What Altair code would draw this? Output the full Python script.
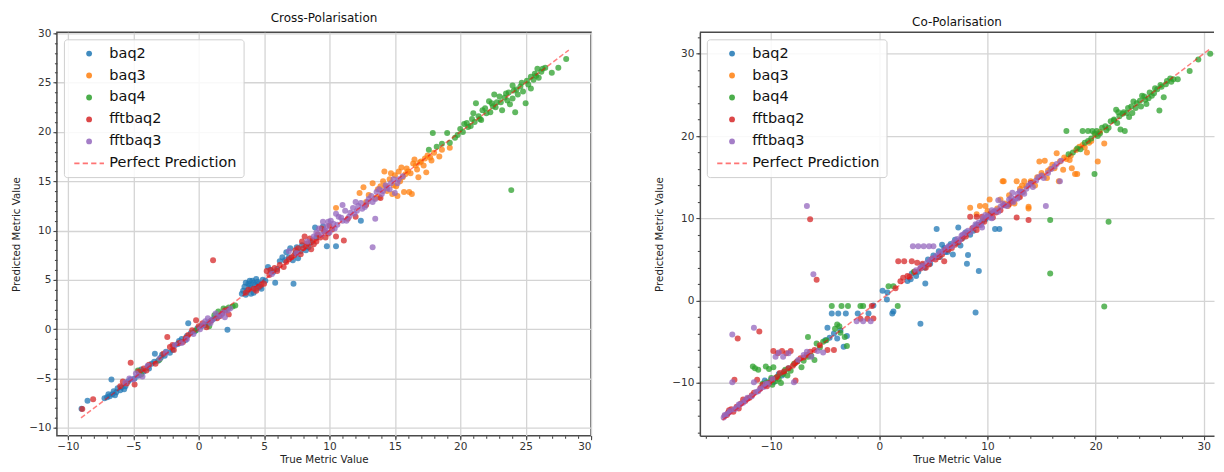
import altair as alt
import pandas as pd

SERIES = ["baq2", "baq3", "baq4", "fftbaq2", "fftbaq3"]
COLORS = ["#1f77b4", "#ff7f0e", "#2ca02c", "#d62728", "#9467bd"]
LINE_LABEL = "Perfect Prediction"
LINE_LEGEND_COLOR = "#ff5c5c"
# dashed legend glyph (filled dash pieces), unit = sqrt(symbolSize)/2
DASH_PATH = ("M-5.1,-0.34H-3.3V0.34H-5.1Z M-2.2,-0.34H-0.4V0.34H-2.2Z "
             "M0.7,-0.34H2.5V0.34H0.7Z M3.6,-0.34H5.1V0.34H3.6Z")

# ---------------- Cross-Polarisation (true, predicted) ----------------
CROSS_BAQ2 = [(-8.96, -8.07), (-8.5, -7.25), (-6.67, -5.1), (-7.0, -6.9), (-6.8, -6.8), (-6.6, -6.6),
              (-6.4, -6.7), (-6.2, -6.0), (-6.5, -6.3), (-5.9, -5.9), (-5.7, -6.1), (-5.4, -5.3),
              (-4.9, -5.0), (-4.2, -4.3), (-3.9, -3.8), (-3.6, -3.5), (-3.35, -2.5), (-3.1, -3.2),
              (-2.8, -2.6), (-2.5, -2.3), (-2.2, -2.4), (-1.9, -1.7), (-1.6, -1.5), (-1.3, -1.0),
              (-1.0, -1.1), (-0.8, 0.6), (-0.6, -0.4), (-0.3, -0.2), (0.2, 0.3), (0.5, 0.4),
              (1.0, 0.9), (1.5, 1.3), (2.2, -0.07), (3.3, 3.6), (3.5, 4.3), (3.7, 3.9), (3.8, 4.6),
              (4.0, 4.2), (4.1, 4.9), (4.3, 4.5), (4.5, 4.8), (4.2, 3.7), (4.7, 4.3), (4.9, 5.0),
              (5.3, 6.3), (5.5, 6.0), (5.85, 4.7), (6.0, 6.1), (6.4, 7.3), (6.7, 7.8), (7.0, 8.2),
              (7.25, 4.6), (7.5, 8.3), (7.2, 7.0), (7.6, 7.2), (7.9, 8.5), (8.2, 8.0), (8.6, 8.8),
              (9.0, 9.3), (9.8, 8.4), (10.5, 8.4), (9.5, 10.4), (8.9, 10.3), (12.4, 11.0),
              (-7.2, -7.0), (-6.9, -6.6), (-6.3, -6.4), (-6.0, -6.2), (-5.6, -5.8), (-5.2, -5.1),
              (-4.6, -4.7), (-4.4, -4.1), (-3.8, -4.0), (-3.4, -3.3), (-2.9, -2.9), (-2.6, -2.7),
              (-2.0, -2.1), (-1.5, -1.2), (-0.9, -0.7), (-0.1, 0.1), (0.7, 0.6), (1.2, 1.1),
              (3.4, 3.9), (3.6, 4.7), (3.9, 4.4), (4.0, 3.6), (4.2, 4.7), (4.4, 4.1), (4.6, 4.6),
              (3.9, 4.9), (4.4, 5.1), (5.1, 4.9), (5.7, 5.8), (6.2, 6.9), (6.6, 7.0), (6.9, 7.3),
              (7.4, 7.7), (7.8, 7.9), (8.4, 8.3), (3.6, 3.5), (4.8, 4.1)]
CROSS_BAQ3 = [(10.5, 12.3), (12.3, 13.8), (12.6, 14.4), (13.0, 13.6), (13.3, 14.8), (13.7, 14.2),
              (14.1, 15.0), (14.4, 14.0), (14.6, 15.2), (14.8, 13.7), (15.2, 13.5), (15.7, 13.9),
              (16.1, 13.9), (16.3, 13.7), (15.0, 15.6), (15.3, 16.0), (15.6, 15.4), (15.9, 16.3),
              (16.2, 15.8), (16.4, 16.8), (16.7, 16.2), (17.0, 17.0), (17.2, 16.6), (17.5, 17.6),
              (17.8, 17.1), (18.0, 17.9), (18.4, 17.5), (18.6, 18.2), (19.2, 18.4), (16.8, 15.4),
              (17.4, 15.9), (14.2, 16.0), (12.8, 12.9), (13.5, 13.3), (13.9, 14.5), (14.3, 14.5),
              (14.9, 14.6), (15.4, 15.0), (15.8, 15.7), (16.0, 16.0), (16.6, 16.6), (16.9, 16.9),
              (17.3, 17.3), (17.7, 17.4), (15.5, 16.4), (16.5, 17.2), (14.7, 15.8), (13.8, 13.4),
              (15.1, 14.5)]
CROSS_BAQ4 = [(-4.65, -4.2), (-4.4, -4.6), (-3.0, -3.1), (-0.2, -0.1), (0.8, 0.3), (1.5, 1.8),
              (1.9, 2.1), (2.3, 2.2), (2.6, 2.3), (2.8, 2.4), (17.6, 18.2), (17.9, 19.9), (18.2, 18.5),
              (18.6, 18.8), (19.0, 19.9), (19.2, 18.9), (19.8, 19.7), (20.0, 20.3), (20.3, 20.8),
              (20.6, 20.5), (20.9, 21.3), (21.2, 22.9), (21.4, 21.6), (21.7, 22.2), (22.0, 21.9),
              (22.2, 23.1), (22.5, 22.6), (22.8, 23.0), (23.2, 22.2), (23.0, 23.6), (23.4, 23.5),
              (23.7, 24.0), (23.9, 14.1), (24.0, 23.4), (24.2, 22.0), (24.3, 24.3), (24.6, 24.6),
              (24.8, 24.1), (25.0, 22.9), (25.1, 25.2), (25.4, 24.4), (25.4, 25.6), (25.7, 25.9),
              (26.0, 25.5), (26.2, 26.1), (26.5, 26.5), (27.0, 26.0), (27.5, 26.5), (28.1, 27.4),
              (21.0, 21.9), (22.6, 23.8), (23.8, 22.8), (25.9, 26.4), (20.2, 20.0), (20.5, 20.9),
              (20.8, 20.6), (21.1, 21.0), (21.5, 21.3), (21.9, 22.4), (22.3, 22.0), (22.7, 22.5),
              (23.1, 23.0), (23.5, 23.9), (23.6, 23.2), (24.1, 24.2), (24.4, 23.8), (24.7, 25.0),
              (25.2, 24.8), (25.6, 25.3), (25.8, 25.7), (26.3, 26.4), (24.0, 24.7), (22.4, 22.9),
              (21.6, 21.2), (19.6, 19.4), (1.2, 1.4), (2.1, 2.0)]
CROSS_FFTBAQ2 = [(-8.9, -8.1), (-8.07, -7.1), (-5.2, -3.4), (-4.9, -5.6), (-5.5, -5.5), (-4.6, -4.3),
                 (-4.2, -4.0), (-3.8, -3.6), (-3.3, -3.5), (-2.4, -0.8), (-2.2, -1.8), (-1.9, -2.1),
                 (-1.5, -1.4), (-1.2, -1.3), (-0.8, -0.6), (-0.5, -0.1), (-0.2, 0.9), (0.3, 0.6),
                 (0.6, 0.2), (1.1, 7.0), (1.4, 1.1), (1.8, 1.6), (2.3, 1.5), (2.0, 1.9), (3.8, 4.0),
                 (4.2, 4.1), (4.6, 4.3), (5.0, 4.6), (5.2, 5.9), (5.5, 6.0), (5.8, 6.2), (6.2, 6.5),
                 (6.5, 6.3), (6.9, 7.1), (7.3, 7.5), (7.6, 8.2), (7.9, 8.9), (8.2, 8.4), (8.5, 9.2),
                 (8.8, 8.6), (9.1, 9.6), (9.4, 10.2), (9.7, 9.3), (10.0, 10.5), (10.5, 9.4), (11.1, 9.0),
                 (11.4, 11.2), (12.0, 11.4), (12.8, 12.6), (13.9, 13.3), (-6.0, -5.8), (-5.8, -5.3),
                 (-4.0, -4.2), (-2.7, -2.5), (-2.0, -1.6), (-1.0, -0.9), (0.0, 0.3), (0.9, 0.8),
                 (1.6, 1.3), (3.6, 3.7), (4.4, 3.9), (4.8, 4.5), (5.4, 5.5), (6.0, 5.9), (6.7, 6.8),
                 (7.1, 7.3), (7.4, 8.0), (7.8, 7.6), (8.0, 8.2), (8.3, 8.7), (8.7, 9.0), (9.0, 8.9),
                 (9.3, 9.3), (9.6, 9.9), (9.9, 9.7), (10.2, 10.1), (8.1, 9.4), (8.6, 8.1)]
CROSS_FFTBAQ3 = [(-5.6, -5.4), (-5.3, -5.0), (-4.6, -4.7), (-4.3, -4.8), (-3.9, -3.7), (-3.0, -3.0),
                 (-1.8, -1.6), (-0.9, -1.0), (-0.4, -0.5), (0.1, 0.0), (0.5, 0.8), (0.9, 0.6), (1.3, 1.6),
                 (1.7, 1.4), (2.0, 1.2), (2.4, 2.1), (5.6, 5.6), (6.9, 7.9), (7.5, 7.7), (8.3, 8.9),
                 (9.2, 10.2), (9.5, 10.9), (9.8, 10.4), (10.1, 11.0), (10.4, 10.2), (10.7, 11.4),
                 (11.0, 11.0), (11.2, 12.0), (11.5, 11.4), (11.8, 12.3), (12.1, 12.0), (12.4, 12.8),
                 (12.7, 12.4), (13.0, 13.2), (13.3, 8.3), (13.3, 12.9), (13.6, 13.9), (14.0, 13.7),
                 (14.3, 14.6), (14.6, 14.2), (14.9, 15.2), (15.2, 14.8), (15.6, 15.5), (13.5, 11.2),
                 (11.0, 12.6), (10.0, 9.8), (15.0, 13.8), (-5.0, -5.1), (-4.8, -4.5), (-2.5, -2.4),
                 (-1.3, -1.4), (0.3, 0.4), (0.7, 1.1), (1.1, 1.0), (1.5, 1.3), (1.9, 1.7), (2.2, 1.9),
                 (8.8, 9.4), (9.0, 9.8), (9.4, 9.6), (9.7, 10.0), (10.3, 10.7), (10.6, 10.6),
                 (10.9, 11.3), (11.3, 11.0), (11.6, 11.8), (11.9, 11.7), (12.2, 12.5), (12.5, 12.2),
                 (12.9, 12.9), (13.2, 13.5), (13.5, 13.2), (13.8, 14.2), (14.1, 14.0), (14.4, 14.3),
                 (14.7, 14.8), (15.3, 15.2), (12.0, 12.9), (10.5, 11.7), (9.9, 10.9)]
CROSS_LINE = [-9.0, 28.3]

# ---------------- Co-Polarisation (true, predicted) ----------------
CO_BAQ2 = [(-10.6, -9.7), (-10.3, -10.1), (-10.0, -9.6), (-9.8, -9.9), (-9.3, -8.9), (-8.4, -8.2),
           (-4.8, -3.3), (-4.4, -1.55), (-3.8, -1.55), (-3.1, -1.55), (-4.2, -4.0), (-3.9, -4.6),
           (-3.6, -3.6), (-3.3, -5.6), (-3.0, -4.3), (-2.0, -1.55), (-1.0, -1.55), (-0.55, -0.6),
           (0.3, 1.2), (0.7, 0.15), (0.75, 1.0), (1.2, -1.55), (1.3, -1.3), (2.6, 2.4), (3.0, 3.3),
           (3.4, 3.0), (3.8, -2.8), (4.25, 2.1), (4.0, 4.3), (4.5, 5.0), (5.0, 5.5), (5.3, 8.7),
           (5.6, 5.3), (6.0, 6.4), (6.3, 5.9), (6.6, 6.9), (7.0, 7.4), (7.3, 8.9), (7.5, 6.7),
           (8.1, 4.5), (8.2, 5.55), (8.4, 8.0), (8.9, -1.45), (9.2, 3.6), (9.5, 9.6), (10.7, 8.7),
           (11.1, 8.7), (10.2, 10.5), (6.8, 5.6), (5.8, 6.8), (-9.6, -9.4), (-9.0, -9.1), (-8.8, -8.6),
           (-5.0, -4.8), (-4.6, -4.5), (4.2, 4.0), (4.7, 4.5), (5.2, 5.3), (5.5, 6.0), (6.1, 5.9),
           (6.5, 6.6), (7.1, 7.0), (7.7, 7.6), (8.0, 8.3), (8.7, 8.5), (9.0, 9.2), (9.8, 9.9),
           (2.9, 2.6), (3.6, 3.5)]
CO_BAQ3 = [(8.4, 11.3), (9.3, 11.5), (9.8, 11.5), (10.2, 12.3), (11.2, 12.3), (11.4, 14.5), (11.5, 14.5),
           (12.7, 14.5), (13.4, 14.5), (14.0, 14.5), (13.8, 11.4), (13.8, 11.2), (12.0, 12.8),
           (12.5, 11.8), (13.0, 13.6), (14.4, 14.0), (14.8, 16.9), (15.3, 17.0), (15.0, 15.5),
           (15.6, 15.8), (16.0, 16.5), (16.4, 17.9), (16.6, 14.5), (17.0, 15.9), (17.3, 17.2),
           (17.6, 17.1), (17.8, 16.1), (18.1, 15.4), (18.3, 15.4), (18.5, 18.7), (19.0, 18.6),
           (19.2, 18.0), (19.6, 19.4), (20.2, 16.9), (20.8, 19.1), (20.0, 20.2), (9.0, 10.5),
           (10.6, 10.8), (10.0, 10.9), (10.9, 11.2), (11.6, 11.8), (12.2, 12.1), (12.9, 12.6),
           (13.3, 13.2), (13.6, 13.9), (14.2, 14.4), (14.6, 15.0), (15.1, 15.2), (15.8, 16.0),
           (16.2, 16.1), (16.7, 16.9), (17.1, 17.4), (17.7, 17.6), (18.2, 18.3), (18.8, 18.9),
           (19.4, 19.2), (20.4, 20.5), (11.9, 11.5), (13.2, 14.0), (15.5, 14.9)]
CO_BAQ4 = [(-11.7, -8.0), (-11.5, -8.2), (-11.2, -8.4), (-10.5, -8.0), (-10.2, -8.3), (-10.0, -9.4),
           (-9.8, -8.1), (-9.6, -9.8), (-9.4, -9.2), (-9.1, -10.0), (-8.9, -8.9), (-8.5, -9.1),
           (-8.2, -8.5), (-7.6, -7.4), (-7.2, -8.1), (-6.6, -4.4), (-6.3, -6.7), (-6.0, -7.2),
           (-5.8, -5.2), (-5.5, -5.7), (-4.4, -0.65), (-3.5, -0.65), (-2.9, -0.65), (-3.9, -2.9),
           (-3.6, -3.9), (-3.2, -4.4), (-3.0, -5.5), (-1.75, -0.65), (-1.5, -0.65), (0.85, 1.75),
           (1.3, 1.75), (1.7, -0.65), (3.2, 3.5), (15.8, 9.8), (21.2, 9.6), (15.8, 3.3), (20.8, -0.7),
           (19.9, 15.4), (17.3, 20.6), (18.8, 20.6), (19.3, 20.6), (19.7, 20.6), (20.1, 20.6),
           (17.5, 17.8), (18.3, 18.5), (19.0, 19.2), (19.6, 19.7), (20.2, 20.0), (20.6, 21.0),
           (21.0, 20.7), (21.4, 21.8), (21.9, 23.2), (22.3, 20.8), (22.7, 20.6), (22.2, 22.4),
           (22.6, 22.9), (23.0, 23.4), (23.4, 22.8), (23.8, 24.0), (24.3, 24.9), (24.2, 23.6),
           (24.6, 24.4), (25.0, 25.3), (25.2, 24.9), (25.5, 25.8), (25.9, 23.1), (26.0, 26.2),
           (26.3, 24.7), (26.6, 26.7), (27.0, 26.6), (27.2, 26.9), (27.6, 26.9), (28.7, 27.9),
           (29.5, 29.3), (30.6, 30.0), (23.5, 24.2), (21.7, 22.0), (-10.8, -10.1), (-10.4, -9.9),
           (-9.9, -10.2), (-9.3, -9.5), (-8.7, -8.4), (-7.9, -7.7), (-7.0, -7.3), (-6.6, -6.8),
           (-5.2, -5.0), (-4.9, -4.8), (-4.1, -3.4), (-3.7, -3.1), (17.9, 18.0), (18.6, 18.4),
           (19.3, 19.4), (19.9, 20.3), (20.4, 20.3), (20.9, 21.2), (21.2, 21.0), (21.7, 21.9),
           (22.0, 21.6), (22.5, 22.7), (22.9, 22.8), (23.3, 23.6), (23.7, 23.4), (24.1, 24.3),
           (24.5, 24.8), (24.9, 24.6), (25.4, 25.2), (25.7, 25.7), (26.1, 26.0), (26.5, 26.3),
           (26.9, 27.0), (23.1, 22.3), (24.7, 23.9), (22.1, 22.9)]
CO_FFTBAQ2 = [(-14.3, -14.0), (-14.0, -13.6), (-13.7, -13.2), (-13.5, -13.5), (-13.2, -12.9), (-13.4, -9.6),
              (-13.1, -4.6), (-12.8, -12.5), (-12.4, -12.2), (-12.0, -11.8), (-11.6, -11.2), (-11.3, -9.6),
              (-11.1, -3.75), (-11.0, -10.6), (-10.6, -10.3), (-10.2, -10.0), (-9.8, -6.1), (-9.4, -6.4),
              (-9.0, -6.1), (-8.6, -6.4), (-8.2, -6.1), (-8.8, -8.6), (-8.0, -7.9), (-7.6, -7.4),
              (-7.0, -6.9), (-7.75, -9.7), (-6.4, 9.9), (-5.8, 2.55), (-6.4, -6.2), (-5.5, -5.4),
              (-4.8, -6.0), (-4.2, -6.0), (-1.75, -2.2), (-1.1, -2.2), (-0.55, -2.15), (-0.7, -0.65),
              (1.75, 4.8), (2.3, 4.8), (1.95, 2.35), (2.2, 2.8), (2.6, 3.0), (3.0, 4.8), (3.5, 4.6),
              (4.0, 4.5), (3.3, 3.5), (4.6, 4.4), (5.2, 5.0), (5.8, 5.6), (6.4, 6.2), (7.0, 6.8),
              (7.6, 7.5), (8.4, 10.2), (9.0, 10.2), (9.5, 10.2), (10.0, 10.2), (9.0, 8.6), (10.5, 10.1),
              (11.2, 11.0), (12.0, 11.7), (12.7, 10.1), (13.8, 9.8), (13.0, 12.6), (14.0, 14.3),
              (8.0, 7.8), (6.0, 4.8), (-14.1, -13.9), (-13.9, -13.3), (-13.0, -13.1), (-12.6, -12.0),
              (-12.2, -11.9), (-11.8, -11.5), (-10.8, -10.2), (-10.4, -10.4), (-9.9, -9.6), (-9.5, -9.3),
              (-9.2, -8.8), (-8.4, -8.2), (-7.8, -7.6), (-7.3, -7.0), (-6.7, -6.6), (-6.0, -6.0),
              (1.5, 1.5), (2.8, 2.9), (3.8, 3.9), (4.3, 4.0), (4.9, 5.1), (5.5, 5.3), (6.1, 6.2),
              (6.7, 6.4), (7.3, 7.1), (7.9, 8.0), (8.6, 8.8), (9.2, 9.2), (9.7, 9.6), (10.3, 10.6),
              (10.8, 10.7), (11.5, 11.6), (12.3, 12.1)]
CO_FFTBAQ3 = [(-14.4, -14.2), (-14.1, -13.8), (-13.8, -13.4), (-13.6, -9.9), (-13.6, -4.1), (-13.2, -13.0),
              (-12.9, -12.6), (-12.6, -12.4), (-12.2, -11.8), (-11.6, -9.9), (-11.6, -3.3), (-11.4, -11.1),
              (-11.0, -10.7), (-10.7, -10.5), (-10.3, -10.1), (-9.6, -6.8), (-9.3, -6.3), (-8.9, -6.8),
              (-8.4, -6.4), (-7.9, -9.9), (-7.5, -7.2), (-7.0, -6.6), (-6.7, -6.2), (-6.3, -6.8),
              (-5.7, -6.1), (-5.2, -6.3), (-6.1, 3.2), (-6.7, 11.5), (-2.1, -2.5), (-1.5, -2.5),
              (-0.8, -2.5), (3.1, 6.6), (3.6, 6.6), (4.1, 6.6), (4.6, 6.6), (5.0, 6.6), (3.8, 4.0),
              (4.4, 4.6), (5.0, 5.2), (5.6, 5.8), (6.2, 6.4), (6.7, 6.6), (7.2, 7.5), (7.7, 8.0),
              (8.2, 8.5), (8.7, 8.9), (9.2, 9.5), (9.6, 10.0), (10.0, 10.3), (10.4, 10.0), (10.8, 11.0),
              (11.2, 11.4), (11.6, 11.6), (12.0, 12.3), (12.4, 12.0), (12.8, 13.0), (13.2, 13.2),
              (13.6, 13.6), (14.0, 14.2), (14.5, 14.6), (15.0, 15.2), (15.4, 11.5), (15.6, 15.5),
              (16.2, 16.3), (16.7, 14.5), (16.8, 17.0), (11.0, 12.2), (9.5, 8.9), (12.3, 13.1),
              (-14.3, -13.9), (-13.9, -13.6), (-13.4, -13.2), (-13.0, -12.6), (-12.4, -12.1),
              (-11.8, -11.6), (-11.2, -11.0), (-10.5, -10.1), (-9.9, -9.5), (3.4, 3.7), (4.0, 4.2),
              (4.7, 4.9), (5.3, 5.5), (5.9, 6.0), (6.4, 6.6), (6.9, 7.1), (7.4, 7.3), (7.9, 8.2),
              (8.4, 8.3), (8.9, 9.3), (9.4, 9.2), (9.8, 10.4), (10.2, 10.1), (10.6, 10.8), (11.0, 10.8),
              (11.4, 11.8), (11.8, 11.5), (12.2, 12.5), (12.6, 12.4), (13.0, 13.3), (13.4, 13.0),
              (13.8, 14.0), (14.2, 13.8), (14.7, 15.0), (15.2, 14.9), (15.9, 16.0), (16.4, 16.6),
              (7.6, 7.9), (10.4, 11.0), (12.8, 12.4)]
CO_LINE = [-14.5, 30.6]

CROSS_X_TICKS = [-10, -5, 0, 5, 10, 15, 20, 25, 30]
CROSS_Y_TICKS = [-10, -5, 0, 5, 10, 15, 20, 25, 30]
CROSS_X_MINOR = list(range(-10, 31))
CROSS_Y_MINOR = list(range(-10, 31))
CO_X_TICKS = [-10, 0, 10, 20, 30]
CO_Y_TICKS = [-10, 0, 10, 20, 30]
CO_X_MINOR = list(range(-16, 32, 2))
CO_Y_MINOR = list(range(-16, 33, 2))

FONT = "DejaVu Sans"
FRAME = "#4a4a4a"


def make_df(groups):
    rows = []
    for name, pts in zip(SERIES, groups):
        for t, p in pts:
            rows.append({"series": name, "true": t, "pred": p})
    return pd.DataFrame(rows)


def panel(groups, line_ends, title, xdom, ydom, xticks, yticks, xminor, yminor, w, h, framed):
    df = make_df(groups)
    line_df = pd.DataFrame({"true": line_ends, "pred": line_ends})
    xs = alt.Scale(domain=xdom, nice=False, zero=False)
    ys = alt.Scale(domain=ydom, nice=False, zero=False)
    legend = alt.Legend(
        title=None, orient="none", legendX=7, legendY=7, direction="vertical",
        padding=7, fillColor="rgba(255,255,255,0.85)", strokeColor="#cfcfcf",
        cornerRadius=3, labelFont=FONT, labelFontSize=14.5, labelColor="#111",
        symbolSize=34, symbolOffset=11, labelOffset=13, rowPadding=7,
        symbolStrokeWidth=0, symbolOpacity=0.85,
    )
    dom = not framed
    pts = alt.Chart(df).mark_point(filled=True, size=36, opacity=0.75, strokeWidth=0).encode(
        x=alt.X("true:Q", scale=xs,
                axis=alt.Axis(values=xticks, title="True Metric Value", orient="bottom",
                              domain=dom, titlePadding=2)),
        y=alt.Y("pred:Q", scale=ys,
                axis=alt.Axis(values=yticks, title="Predicted Metric Value", orient="left",
                              domain=dom, titlePadding=7)),
        color=alt.Color("series:N",
                        scale=alt.Scale(domain=SERIES + [LINE_LABEL], range=COLORS + [LINE_LEGEND_COLOR]),
                        legend=legend),
        shape=alt.Shape("series:N",
                        scale=alt.Scale(domain=SERIES + [LINE_LABEL], range=["circle"] * 5 + [DASH_PATH]),
                        legend=legend),
    )
    line = alt.Chart(line_df).mark_line(color="red", opacity=0.5, strokeWidth=1.5,
                                        strokeDash=[5, 2.5]).encode(
        x=alt.X("true:Q", scale=xs,
                axis=alt.Axis(values=xminor, labels=False, grid=False, domain=False, ticks=True,
                              tickSize=2.5, title=None, orient="bottom")),
        y=alt.Y("pred:Q", scale=ys,
                axis=alt.Axis(values=yminor, labels=False, grid=False, domain=False, ticks=True,
                              tickSize=2.5, title=None, orient="left")),
    )
    layers = [pts, line]
    if not framed:
        top = alt.Chart(pd.DataFrame({"edge": [1]})).mark_rule(color=FRAME, strokeWidth=1.5).encode(
            y=alt.value(0))
        layers.append(top)
    ch = alt.layer(*layers).resolve_axis(x="independent", y="independent").properties(
        width=w, height=h, title=title)
    if not framed:
        ch = ch.properties(view=alt.ViewBackground(stroke="transparent"))
    return ch


left = panel([CROSS_BAQ2, CROSS_BAQ3, CROSS_BAQ4, CROSS_FFTBAQ2, CROSS_FFTBAQ3], CROSS_LINE,
             "Cross-Polarisation", [-10.84, 30.0], [-10.8, 30.1], CROSS_X_TICKS, CROSS_Y_TICKS,
             CROSS_X_MINOR, CROSS_Y_MINOR, 535, 404, True)
right = panel([CO_BAQ2, CO_BAQ3, CO_BAQ4, CO_FFTBAQ2, CO_FFTBAQ3], CO_LINE,
              "Co-Polarisation", [-16.6, 30.95], [-16.4, 32.6], CO_X_TICKS, CO_Y_TICKS,
              CO_X_MINOR, CO_Y_MINOR, 515, 404, False)

chart = alt.hconcat(left, right, spacing=61).resolve_scale(
    color="independent", shape="independent"
).resolve_legend(color="independent", shape="independent").properties(
    padding={"left": 3, "top": 3, "right": 0, "bottom": 0}
).configure_axis(
    labelFont=FONT, titleFont=FONT, labelFontSize=10.5, titleFontSize=10.3,
    labelColor="#333", titleColor="#222", titleFontWeight="normal",
    gridColor="#d4d4d4", gridWidth=1.3, tickColor=FRAME, tickSize=4, tickWidth=1.1,
    domainColor=FRAME, domainWidth=1.5, labelPadding=2,
).configure_title(
    font=FONT, fontSize=12, fontWeight="normal", anchor="middle", offset=3, color="#111"
).configure_view(stroke=FRAME, strokeWidth=1.5)

chart.save("out.html", embed_options={"renderer": "svg", "actions": False})
